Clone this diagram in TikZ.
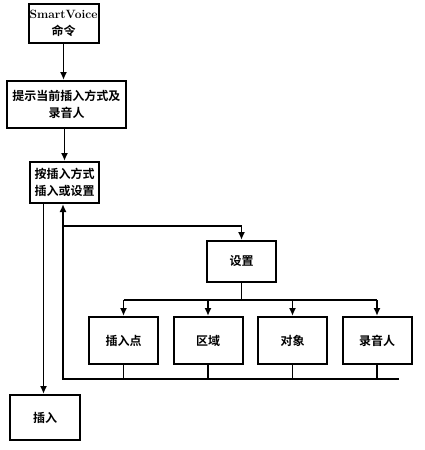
\documentclass[tikz,border=0pt]{standalone}
\usepackage{fontspec}
\newfontfamily\cjk{Noto Sans CJK SC}[BoldFont={Noto Sans CJK SC Bold}]
\usetikzlibrary{positioning,arrows.meta}

\tikzset{
    box/.style={draw, line width=2pt, align=center, inner sep=1pt,
        font=\cjk\bfseries\fontsize{12}{17}\selectfont},
    arr/.style={-{Latex[length=8pt,width=7pt]}, line width=1.6pt},
    wire/.style={line width=1.6pt}
}

\begin{document}
\begin{tikzpicture}[x=1pt, y=-1pt]
    \useasboundingbox (0,0) rectangle (425,450);

    \node[box, minimum width=70pt, minimum height=39pt] (cmd) at (63.5,23.5)
        {{\rmfamily\bfseries SmartVoice}\\命令};
    \node[box, minimum width=119pt, minimum height=47pt] (tip) at (66.5,104.5)
        {提示当前插入方式及\\录音人};
    \node[box, minimum width=69pt, minimum height=41pt] (mode) at (64.5,182.5)
        {按插入方式\\插入或设置};
    \node[box, minimum width=70pt, minimum height=45pt] (ins) at (45,417.5) {插入};
    \node[box, minimum width=69pt, minimum height=41pt] (set) at (241.5,261.5) {设置};

    % options row
    \node[box, minimum width=69pt, minimum height=47pt] (p1) at (123.5,340.5) {插入点};
    \node[box, minimum width=69pt, minimum height=47pt, right=13.5pt of p1] (p2) {区域};
    \node[box, minimum width=69pt, minimum height=47pt, right=13.5pt of p2] (p3) {对象};
    \node[box, minimum width=69pt, minimum height=47pt, right=13.5pt of p3] (p4) {录音人};

    \coordinate (fork) at (63,226);
    \coordinate (busL) at (63,379);
    \coordinate (busR) at (399,379);
    \coordinate (hub) at ([yshift=-17pt]set.south);

    % main flow
    \draw[arr] (cmd.south) -- (cmd.south |- tip.north);
    \draw[arr] (tip.south -| mode) -- (mode.north);
    \draw[arr] ([xshift=-21pt]mode.south) -- ([xshift=-21pt]mode.south |- ins.north);

    % to settings
    \draw[arr] (fork) -| (set.north);
    \draw[wire] (set.south) -- (hub);
    \draw[wire] (hub -| p1) -- (hub -| p4);
    \foreach \o in {p1,p2,p3,p4}
        \draw[arr] (hub -| \o) -- (\o.north);

    % back to mode
    \draw[wire, line width=2pt] (busL) -- (busR);
    \foreach \o in {p2,p3,p4}
        \draw[wire] (\o.south) -- (\o.south |- busR);
    \draw[arr] (p1.south) |- (busL) -- (busL |- mode.south);
\end{tikzpicture}
\end{document}
